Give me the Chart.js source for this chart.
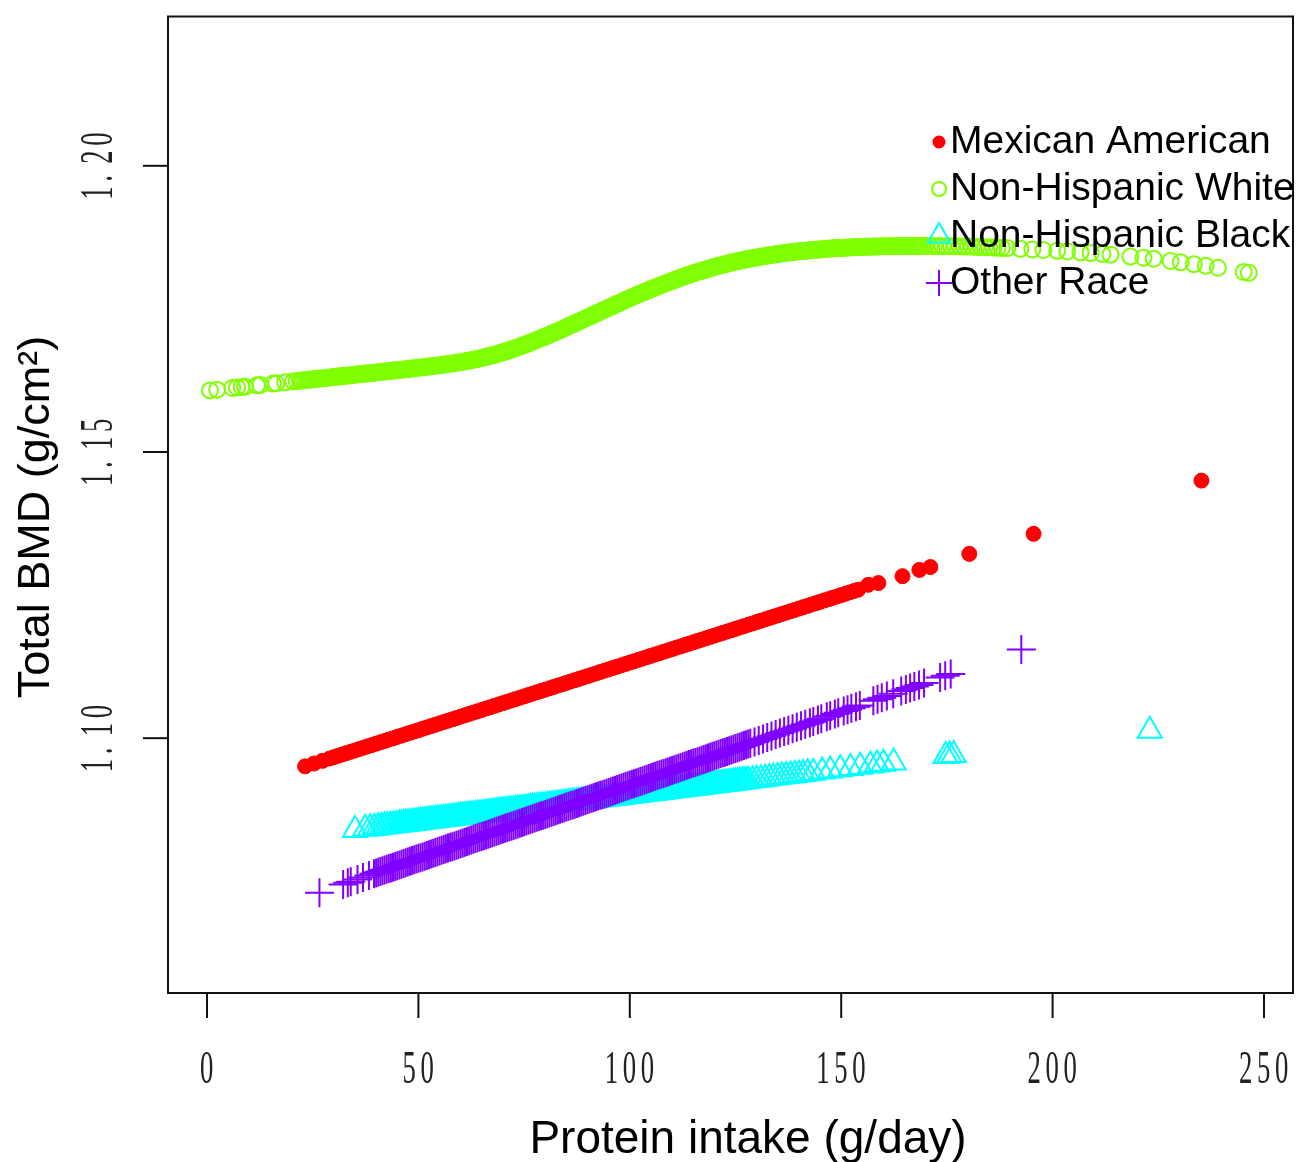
<!DOCTYPE html>
<html>
<head>
<meta charset="utf-8">
<title>Total BMD vs Protein intake</title>
<script src="https://cdn.jsdelivr.net/npm/chart.js"></script>
<style>
  html, body { margin: 0; padding: 0; background: #fff; }
  canvas { display: block; }
</style>
</head>
<body>
<canvas id="bmdChart" width="1311" height="1162"></canvas>
<script>
// values: [protein intake g/day, total BMD g/cm2]
const mexicanAmerican = [
  [23.2,1.09508],[25.3,1.09557],[27.3,1.09604],
  [29,1.09644],[30,1.09668],[31,1.09692],[32,1.09715],[33,1.09739],[34,1.09762],[35,1.09786],[36,1.0981],[37,1.09833],[38,1.09857],
  [39,1.0988],[40,1.09904],[41,1.09928],[42,1.09951],[43,1.09975],[44,1.09998],[45,1.10022],[46,1.10046],[47,1.10069],[48,1.10093],
  [49,1.10116],[50,1.1014],[51,1.10164],[52,1.10187],[53,1.10211],[54,1.10234],[55,1.10258],[56,1.10282],[57,1.10305],[58,1.10329],
  [59,1.10352],[60,1.10376],[61,1.104],[62,1.10423],[63,1.10447],[64,1.1047],[65,1.10494],[66,1.10518],[67,1.10541],[68,1.10565],
  [69,1.10588],[70,1.10612],[71,1.10636],[72,1.10659],[73,1.10683],[74,1.10706],[75,1.1073],[76,1.10754],[77,1.10777],[78,1.10801],
  [79,1.10824],[80,1.10848],[81,1.10872],[82,1.10895],[83,1.10919],[84,1.10942],[85,1.10966],[86,1.1099],[87,1.11013],[88,1.11037],
  [89,1.1106],[90,1.11084],[91,1.11108],[92,1.11131],[93,1.11155],[94,1.11178],[95,1.11202],[96,1.11226],[97,1.11249],[98,1.11273],
  [99,1.11296],[100,1.1132],[101,1.11344],[102,1.11367],[103,1.11391],[104,1.11414],[105,1.11438],[106,1.11462],[107,1.11485],[108,1.11509],
  [109,1.11532],[110,1.11556],[111,1.1158],[112,1.11603],[113,1.11627],[114,1.1165],[115,1.11674],[116,1.11698],[117,1.11721],[118,1.11745],
  [119,1.11768],[120,1.11792],[121,1.11816],[122,1.11839],[123,1.11863],[124,1.11886],[125,1.1191],[126,1.11934],[127,1.11957],[128,1.11981],
  [129,1.12004],[130,1.12028],[131,1.12052],[132,1.12075],[133,1.12099],[134,1.12122],[135,1.12146],[136,1.1217],[137,1.12193],[138,1.12217],
  [139,1.1224],[140,1.12264],[141,1.12288],[142,1.12311],[143,1.12335],[144,1.12358],[145,1.12382],[146,1.12406],[147,1.12429],[148,1.12453],
  [149,1.12476],[150,1.125],[151,1.12524],[152,1.12547],[153,1.12571],[154,1.12594],
  [156.4,1.1268],[158.8,1.1271],[164.5,1.1283],[168.5,1.1294],[171.1,1.1299],[180.3,1.1322],[195.5,1.1357],[235.2,1.145]
];

const nonHispanicWhite = [
  [0.7,1.16076],[2.4,1.16089],[6,1.16118],[7.1,1.16127],[8.2,1.16136],[9,1.16142],[11.8,1.16164],[12.6,1.16171],
  [15.6,1.16195],[16.4,1.16201],[18.5,1.16218],[20.4,1.16233],[21.2,1.1624],
  [22,1.16246],[22.5,1.1625],[23,1.16254],[23.5,1.16258],[24,1.16262],[24.5,1.16266],[25,1.1627],[25.5,1.16274],[26,1.16278],[26.5,1.16282],
  [27,1.16286],[27.5,1.1629],[28,1.16294],[28.5,1.16298],[29,1.16302],[29.5,1.16306],[30,1.1631],[30.5,1.16314],[31,1.16318],[31.5,1.16322],
  [32,1.16326],[32.5,1.1633],[33,1.16334],[33.5,1.16338],[34,1.16342],[34.5,1.16346],[35,1.1635],[35.5,1.16354],[36,1.16358],[36.5,1.16362],
  [37,1.16366],[37.5,1.1637],[38,1.16374],[38.5,1.16378],[39,1.16382],[39.5,1.16386],[40,1.1639],[40.5,1.16394],[41,1.16398],[41.5,1.16402],
  [42,1.16406],[42.5,1.1641],[43,1.16414],[43.5,1.16418],[44,1.16422],[44.5,1.16426],[45,1.1643],[45.5,1.16434],[46,1.16438],[46.5,1.16442],
  [47,1.16446],[47.5,1.1645],[48,1.16454],[48.5,1.164585],[49,1.16463],[49.5,1.164675],[50,1.16472],[50.5,1.164765],[51,1.16481],[51.5,1.164855],
  [52,1.1649],[52.5,1.164945],[53,1.16499],[53.5,1.165035],[54,1.16508],[54.5,1.165125],[55,1.16517],[55.5,1.165215],[56,1.16526],[56.5,1.165315],
  [57,1.16537],[57.5,1.165425],[58,1.16548],[58.5,1.165535],[59,1.16559],[59.5,1.165645],[60,1.1657],[60.5,1.16577],[61,1.16584],[61.5,1.16591],
  [62,1.16598],[62.5,1.16605],[63,1.16612],[63.5,1.16619],[64,1.16626],[64.5,1.16635],[65,1.16644],[65.5,1.16653],[66,1.16662],[66.5,1.16671],
  [67,1.1668],[67.5,1.16689],[68,1.16698],[68.5,1.167095],[69,1.16721],[69.5,1.167325],[70,1.16744],[70.5,1.167555],[71,1.16767],[71.5,1.167785],
  [72,1.1679],[72.5,1.168035],[73,1.16817],[73.5,1.168305],[74,1.16844],[74.5,1.168575],[75,1.16871],[75.5,1.168845],[76,1.16898],[76.5,1.16913],
  [77,1.16928],[77.5,1.16943],[78,1.16958],[78.5,1.16973],[79,1.16988],[79.5,1.17003],[80,1.17018],[80.5,1.17034],[81,1.1705],[81.5,1.17066],
  [82,1.17082],[82.5,1.17098],[83,1.17114],[83.5,1.1713],[84,1.17146],[84.5,1.17163],[85,1.1718],[85.5,1.17197],[86,1.17214],[86.5,1.17231],
  [87,1.17248],[87.5,1.17265],[88,1.17282],[88.5,1.17299],[89,1.17316],[89.5,1.17333],[90,1.1735],[90.5,1.17367],[91,1.17384],[91.5,1.17401],
  [92,1.17418],[92.5,1.17435],[93,1.17452],[93.5,1.17469],[94,1.17486],[94.5,1.17503],[95,1.1752],[95.5,1.17537],[96,1.17554],[96.5,1.17571],
  [97,1.17588],[97.5,1.17605],[98,1.17622],[98.5,1.17639],[99,1.17656],[99.5,1.17673],[100,1.1769],[100.5,1.177055],[101,1.17721],[101.5,1.177365],
  [102,1.17752],[102.5,1.177675],[103,1.17783],[103.5,1.177985],[104,1.17814],[104.5,1.17829],[105,1.17844],[105.5,1.17859],[106,1.17874],[106.5,1.17889],
  [107,1.17904],[107.5,1.17919],[108,1.17934],[108.5,1.17948],[109,1.17962],[109.5,1.17976],[110,1.1799],[110.5,1.18004],[111,1.18018],[111.5,1.18032],
  [112,1.18046],[112.5,1.180585],[113,1.18071],[113.5,1.180835],[114,1.18096],[114.5,1.181085],[115,1.18121],[115.5,1.181335],[116,1.18146],[116.5,1.18157],
  [117,1.18168],[117.5,1.18179],[118,1.1819],[118.5,1.18201],[119,1.18212],[119.5,1.18223],[120,1.18234],[120.5,1.182435],[121,1.18253],[121.5,1.182625],
  [122,1.18272],[122.5,1.182815],[123,1.18291],[123.5,1.183005],[124,1.1831],[124.5,1.18318],[125,1.18326],[125.5,1.18334],[126,1.18342],[126.5,1.1835],
  [127,1.18358],[127.5,1.18366],[128,1.18374],[128.5,1.183805],[129,1.18387],[129.5,1.183935],[130,1.184],[130.5,1.184065],[131,1.18413],[131.5,1.184195],
  [132,1.18426],[132.5,1.184315],[133,1.18437],[133.5,1.184425],[134,1.18448],[134.5,1.184535],[135,1.18459],[135.5,1.184645],[136,1.1847],[136.5,1.184745],
  [137,1.18479],[137.5,1.184835],[138,1.18488],[138.5,1.184925],[139,1.18497],[139.5,1.185015],[140,1.18506],[140.5,1.185095],[141,1.18513],[141.5,1.185165],
  [142,1.1852],[142.5,1.185235],[143,1.18527],[143.5,1.185305],[144,1.18534],[144.5,1.18537],[145,1.1854],[145.5,1.18543],[146,1.18546],[146.5,1.18549],
  [147,1.18552],[147.5,1.18555],[148,1.18558],[148.5,1.1856],[149,1.18562],[149.5,1.18564],[150,1.18566],[150.5,1.18568],[151,1.1857],[151.5,1.18572],
  [152,1.18574],[152.5,1.185755],[153,1.18577],[153.5,1.185785],[154,1.1858],[154.5,1.185815],[155,1.18583],[155.5,1.185845],[156,1.18586],[156.5,1.18587],
  [157,1.18588],[157.5,1.18589],[158,1.1859],[158.5,1.18591],[159,1.18592],[159.5,1.18593],[160,1.18594],[160.5,1.185945],[161,1.18595],[161.5,1.185955],
  [162,1.18596],[162.5,1.185965],[163,1.18597],[163.5,1.185975],[164,1.18598],[164.5,1.18598],[165,1.18598],[165.5,1.18598],[166,1.18598],[166.5,1.18598],
  [167,1.18598],[167.5,1.18598],[168,1.18598],[168.5,1.18598],[169,1.18598],[169.5,1.18598],[170,1.18598],
  [171,1.18598],[172,1.18598],[173,1.18597],[174,1.18596],[175,1.18595],[176,1.18594],[177,1.18593],[178,1.18592],[179,1.18591],[180,1.1859],
  [181,1.18587],[182,1.18584],[183,1.18581],[184,1.18578],[185,1.18575],[186,1.18572],[187,1.18569],[188,1.18566],
  [189.3,1.18562],[192.4,1.1855],[195.2,1.18539],[197.8,1.18529],[201.1,1.18515],[203.5,1.18503],[206.6,1.18487],[209,1.18475],
  [211.8,1.18461],[213.7,1.18448],[218.4,1.18415],[221.5,1.18394],[223.9,1.18377],[227.9,1.18337],[230.3,1.18313],[233.4,1.18282],
  [236.2,1.18254],[239.1,1.18219],[245.2,1.18146],[246.4,1.18131]
];

const nonHispanicBlack = [
  [35,1.08394],[37.4,1.08416],[38.6,1.08427],[39.6,1.08437],[40.5,1.08445],[41.3,1.08452],[42,1.08459],[42.7,1.08465],
  [43.4,1.08472],[44.1,1.08478],[44.8,1.08485],
  [45.5,1.08491],[46,1.08496],[46.5,1.08501],[47,1.08505],[47.5,1.0851],[48,1.08514],[48.5,1.08519],[49,1.08524],[49.5,1.08528],[50,1.08533],
  [50.5,1.08538],[51,1.08542],[51.5,1.08547],[52,1.08552],[52.5,1.08556],[53,1.08561],[53.5,1.08565],[54,1.0857],[54.5,1.08575],[55,1.08579],
  [55.5,1.08584],[56,1.08589],[56.5,1.08593],[57,1.08598],[57.5,1.08602],[58,1.08607],[58.5,1.08612],[59,1.08616],[59.5,1.08621],[60,1.08626],
  [60.5,1.0863],[61,1.08635],[61.5,1.08639],[62,1.08644],[62.5,1.08649],[63,1.08653],[63.5,1.08658],[64,1.08663],[64.5,1.08667],[65,1.08672],
  [65.5,1.08677],[66,1.08681],[66.5,1.08686],[67,1.0869],[67.5,1.08695],[68,1.087],[68.5,1.08704],[69,1.08709],[69.5,1.08714],[70,1.08718],
  [70.5,1.08723],[71,1.08727],[71.5,1.08732],[72,1.08737],[72.5,1.08741],[73,1.08746],[73.5,1.08751],[74,1.08755],[74.5,1.0876],[75,1.08764],
  [75.5,1.08769],[76,1.08774],[76.5,1.08778],[77,1.08783],[77.5,1.08788],[78,1.08792],[78.5,1.08797],[79,1.08802],[79.5,1.08806],[80,1.08811],
  [80.5,1.08815],[81,1.0882],[81.5,1.08825],[82,1.08829],[82.5,1.08834],[83,1.08839],[83.5,1.08843],[84,1.08848],[84.5,1.08852],[85,1.08857],
  [85.5,1.08862],[86,1.08866],[86.5,1.08871],[87,1.08876],[87.5,1.0888],[88,1.08885],[88.5,1.0889],[89,1.08894],[89.5,1.08899],[90,1.08903],
  [90.5,1.08908],[91,1.08913],[91.5,1.08917],[92,1.08922],[92.5,1.08927],[93,1.08931],[93.5,1.08936],[94,1.0894],[94.5,1.08945],[95,1.0895],
  [95.5,1.08954],[96,1.08959],[96.5,1.08964],[97,1.08968],[97.5,1.08973],[98,1.08978],[98.5,1.08982],[99,1.08987],[99.5,1.08991],[100,1.08996],
  [100.5,1.09001],[101,1.09005],[101.5,1.0901],[102,1.09015],[102.5,1.09019],[103,1.09024],[103.5,1.09028],[104,1.09033],[104.5,1.09038],[105,1.09042],
  [105.5,1.09047],[106,1.09052],[106.5,1.09056],[107,1.09061],[107.5,1.09066],[108,1.0907],[108.5,1.09075],[109,1.09079],[109.5,1.09084],[110,1.09089],
  [110.5,1.09093],[111,1.09098],[111.5,1.09103],[112,1.09107],[112.5,1.09112],[113,1.09116],[113.5,1.09121],[114,1.09126],[114.5,1.0913],[115,1.09135],
  [115.5,1.0914],[116,1.09144],[116.5,1.09149],[117,1.09153],[117.5,1.09158],[118,1.09163],[118.5,1.09167],[119,1.09172],[119.5,1.09177],[120,1.09181],
  [120.5,1.09186],[121,1.0919],[121.5,1.09195],[122,1.092],[122.5,1.09204],[123,1.09209],[123.5,1.09214],[124,1.09218],[124.5,1.09223],[125,1.09228],
  [125.5,1.09232],[126,1.09237],[126.5,1.09241],[127,1.09246],[127.5,1.09251],[128,1.09255],
  [129,1.09265],[130,1.09274],[131,1.09283],[132,1.09292],[133,1.09302],[134,1.09311],[135,1.0932],[136,1.09329],[137,1.09339],[138,1.09348],
  [139,1.09357],[140,1.09366],[141,1.09376],[142,1.09385],
  [143.4,1.09398],[145.5,1.09417],[147.4,1.09435],[149.8,1.09457],[152.2,1.09479],[154.5,1.09501],[156.9,1.09523],[158.5,1.09538],
  [160,1.09552],[162.4,1.09574],[174.7,1.09688],[175.6,1.09696],[176.6,1.09705],[223,1.1013]
];

const otherRace = [
  [26.6,1.07301],[32.2,1.07444],[33.3,1.07472],[34,1.0749],[35.6,1.07531],[36.9,1.07565],[38.3,1.076],
  [39.5,1.076312],[40,1.07644],[40.5,1.076568],[41,1.076696],[41.5,1.076824],[42,1.076952],[42.5,1.07708],[43,1.077208],[43.5,1.077336],[44,1.077464],
  [44.5,1.077592],[45,1.07772],[45.5,1.077848],[46,1.077976],[46.5,1.078104],[47,1.078232],[47.5,1.07836],[48,1.078488],[48.5,1.078616],[49,1.078744],
  [49.5,1.078872],[50,1.079],[50.5,1.079128],[51,1.079256],[51.5,1.079384],[52,1.079512],[52.5,1.07964],[53,1.079768],[53.5,1.079896],[54,1.080024],
  [54.5,1.080152],[55,1.08028],[55.5,1.080408],[56,1.080536],[56.5,1.080664],[57,1.080792],[57.5,1.08092],[58,1.081048],[58.5,1.081176],[59,1.081304],
  [59.5,1.081432],[60,1.08156],[60.5,1.081688],[61,1.081816],[61.5,1.081944],[62,1.082072],[62.5,1.0822],[63,1.082328],[63.5,1.082456],[64,1.082584],
  [64.5,1.082712],[65,1.08284],[65.5,1.082968],[66,1.083096],[66.5,1.083224],[67,1.083352],[67.5,1.08348],[68,1.083608],[68.5,1.083736],[69,1.083864],
  [69.5,1.083992],[70,1.08412],[70.5,1.084248],[71,1.084376],[71.5,1.084504],[72,1.084632],[72.5,1.08476],[73,1.084888],[73.5,1.085016],[74,1.085144],
  [74.5,1.085272],[75,1.0854],[75.5,1.085528],[76,1.085656],[76.5,1.085784],[77,1.085912],[77.5,1.08604],[78,1.086168],[78.5,1.086296],[79,1.086424],
  [79.5,1.086552],[80,1.08668],[80.5,1.086808],[81,1.086936],[81.5,1.087064],[82,1.087192],[82.5,1.08732],[83,1.087448],[83.5,1.087576],[84,1.087704],
  [84.5,1.087832],[85,1.08796],[85.5,1.088088],[86,1.088216],[86.5,1.088344],[87,1.088472],[87.5,1.0886],[88,1.088728],[88.5,1.088856],[89,1.088984],
  [89.5,1.089112],[90,1.08924],[90.5,1.089368],[91,1.089496],[91.5,1.089624],[92,1.089752],[92.5,1.08988],[93,1.090008],[93.5,1.090136],[94,1.090264],
  [94.5,1.090392],[95,1.09052],[95.5,1.090648],[96,1.090776],[96.5,1.090904],[97,1.091032],[97.5,1.09116],[98,1.091288],[98.5,1.091416],[99,1.091544],
  [99.5,1.091672],[100,1.0918],[100.5,1.091928],[101,1.092056],[101.5,1.092184],[102,1.092312],[102.5,1.09244],[103,1.092568],[103.5,1.092696],[104,1.092824],
  [104.5,1.092952],[105,1.09308],[105.5,1.093208],[106,1.093336],[106.5,1.093464],[107,1.093592],[107.5,1.09372],[108,1.093848],[108.5,1.093976],[109,1.094104],
  [109.5,1.094232],[110,1.09436],[110.5,1.094488],[111,1.094616],[111.5,1.094744],[112,1.094872],[112.5,1.095],[113,1.095128],[113.5,1.095256],[114,1.095384],
  [114.5,1.095512],[115,1.09564],[115.5,1.095768],[116,1.095896],[116.5,1.096024],[117,1.096152],[117.5,1.09628],[118,1.096408],[118.5,1.096536],[119,1.096664],
  [119.5,1.096792],[120,1.09692],[120.5,1.097048],[121,1.097176],[121.5,1.097304],[122,1.097432],[122.5,1.09756],[123,1.097688],[123.5,1.097816],[124,1.097944],
  [124.5,1.098072],[125,1.0982],[125.5,1.098328],[126,1.098456],[126.5,1.098584],[127,1.098712],[127.5,1.09884],[128,1.098968],
  [128.5,1.099096],[129.5,1.099352],[130.5,1.099608],[131.5,1.099864],[132.5,1.10012],[133.5,1.100376],[134.5,1.100632],[135.5,1.100888],
  [136.5,1.101144],[137.5,1.1014],[138.5,1.101656],[139.5,1.101912],[140.5,1.102168],
  [141.5,1.102424],[142.6,1.102706],[143.4,1.10291],[144.5,1.103192],[145.3,1.103397],[146.6,1.10373],[147.4,1.103934],[148.5,1.104216],
  [149.3,1.104421],[150.6,1.104754],[151.5,1.104984],[152.4,1.105214],[153.5,1.105496],[154.4,1.105726],
  [157.6,1.106546],[158.6,1.106802],[159.6,1.107058],[160.8,1.107365],[162.3,1.107749],[164.2,1.108235],[165.3,1.108517],[166.3,1.108773],
  [167.3,1.109029],[168.4,1.10931],[169.6,1.109618],[173.4,1.11059],[174.6,1.110898],[175.9,1.11123],[192.6,1.1155]
];

const xTicks = [0, 50, 100, 150, 200, 250];
const yTicks = [1.10, 1.15, 1.20];
const seriesNames = ['Mexican American', 'Non-Hispanic White', 'Non-Hispanic Black', 'Other Race'];
const seriesColors = ['#FF0000', '#80FF00', '#00FFFF', '#8000FF'];

const toPoints = arr => arr.map(p => ({ x: p[0], y: p[1] }));

// tick labels are a tall, narrow serif; draw each glyph squeezed into a fixed cell
function narrowText(ctx, str, cx, baseY) {
  const cell = 18, sx = 0.58;
  let x0 = cx - (str.length * cell - 4) / 2;
  for (const ch of str) {
    ctx.save();
    ctx.translate(x0, baseY);
    ctx.scale(sx, 1);
    ctx.fillText(ch, 0, 0);
    ctx.restore();
    x0 += cell;
  }
}

function marker(ctx, i, x, y) {
  ctx.save();
  ctx.strokeStyle = seriesColors[i];
  ctx.fillStyle = seriesColors[i];
  ctx.lineWidth = 2;
  ctx.beginPath();
  if (i === 0) {
    ctx.arc(x, y, 6.5, 0, Math.PI * 2);
    ctx.fill();
  } else if (i === 1) {
    ctx.arc(x, y, 7, 0, Math.PI * 2);
    ctx.stroke();
  } else if (i === 2) {
    const r = 13;
    ctx.moveTo(x, y - r);
    ctx.lineTo(x + r * 0.866, y + r / 2);
    ctx.lineTo(x - r * 0.866, y + r / 2);
    ctx.closePath();
    ctx.stroke();
  } else {
    const r = 13;
    ctx.moveTo(x - r, y); ctx.lineTo(x + r, y);
    ctx.moveTo(x, y - r); ctx.lineTo(x, y + r);
    ctx.stroke();
  }
  ctx.restore();
}

const framePlugin = {
  id: 'frame',
  afterDraw(chart) {
    const { ctx, chartArea: a } = chart;
    const xs = chart.scales.x, ys = chart.scales.y;
    ctx.save();
    ctx.strokeStyle = '#111';
    ctx.lineWidth = 2;
    ctx.strokeRect(a.left, a.top, a.right - a.left, a.bottom - a.top);

    ctx.fillStyle = '#222';
    ctx.font = '46px "Liberation Serif", serif';
    ctx.textAlign = 'left';
    ctx.textBaseline = 'alphabetic';
    xs.ticks.forEach(t => {
      const px = xs.getPixelForValue(t.value);
      ctx.beginPath();
      ctx.moveTo(px, a.bottom);
      ctx.lineTo(px, a.bottom + 25);
      ctx.stroke();
      narrowText(ctx, String(t.value), px, 1083);
    });
    ys.ticks.forEach(t => {
      const py = ys.getPixelForValue(t.value);
      ctx.beginPath();
      ctx.moveTo(a.left - 25, py);
      ctx.lineTo(a.left, py);
      ctx.stroke();
      ctx.save();
      ctx.translate(112, py);
      ctx.rotate(-Math.PI / 2);
      narrowText(ctx, t.value.toFixed(2), 0, 0);
      ctx.restore();
    });

    // axis titles
    ctx.fillStyle = '#000';
    ctx.font = '46px "Liberation Sans", Arial, sans-serif';
    ctx.textAlign = 'center';
    ctx.fillText('Protein intake (g/day)', 748, 1153);
    ctx.save();
    ctx.translate(49, 517);
    ctx.rotate(-Math.PI / 2);
    ctx.font = '45px "Liberation Sans", Arial, sans-serif';
    ctx.fillText('Total BMD (g/cm\u00B2)', 0, 0);
    ctx.restore();

    // legend, no box
    ctx.font = '39px "Liberation Sans", Arial, sans-serif';
    ctx.textAlign = 'left';
    seriesNames.forEach((name, i) => {
      const base = 153 + i * 47;
      marker(ctx, i, 939, base - 11);
      ctx.fillStyle = '#000';
      ctx.fillText(name, 950, base);
    });
    ctx.restore();
  }
};

const common = { showLine: false, pointHoverRadius: 0 };

new Chart(document.getElementById('bmdChart').getContext('2d'), {
  type: 'scatter',
  data: {
    datasets: [
      { ...common, label: seriesNames[0], data: toPoints(mexicanAmerican), order: 4,
        pointStyle: 'circle', pointRadius: 7.5, pointBorderWidth: 1,
        pointBackgroundColor: seriesColors[0], pointBorderColor: seriesColors[0] },
      { ...common, label: seriesNames[1], data: toPoints(nonHispanicWhite), order: 3,
        pointStyle: 'circle', pointRadius: 8, pointBorderWidth: 2,
        pointBackgroundColor: 'rgba(0,0,0,0)', pointBorderColor: seriesColors[1] },
      { ...common, label: seriesNames[2], data: toPoints(nonHispanicBlack), order: 2,
        pointStyle: 'triangle', pointRadius: 14, pointBorderWidth: 2,
        pointBackgroundColor: 'rgba(0,0,0,0)', pointBorderColor: seriesColors[2] },
      { ...common, label: seriesNames[3], data: toPoints(otherRace), order: 1,
        pointStyle: 'cross', pointRadius: 14.5, pointBorderWidth: 2,
        pointBackgroundColor: seriesColors[3], pointBorderColor: seriesColors[3] }
    ]
  },
  options: {
    responsive: false,
    animation: false,
    events: [],
    layout: { padding: { top: 12, right: 18, left: 0, bottom: 0 } },
    plugins: { legend: { display: false }, tooltip: { enabled: false } },
    scales: {
      x: {
        type: 'linear', min: -9.224, max: 256.86,
        ticks: { display: false }, grid: { display: false }, border: { display: false },
        afterBuildTicks: s => { s.ticks = xTicks.map(v => ({ value: v })); },
        afterFit: s => { s.height = 169; }
      },
      y: {
        type: 'linear', min: 1.055477, max: 1.226087,
        ticks: { display: false }, grid: { display: false }, border: { display: false },
        afterBuildTicks: s => { s.ticks = yTicks.map(v => ({ value: v })); },
        afterFit: s => { s.width = 168; }
      }
    }
  },
  plugins: [framePlugin]
});
</script>
</body>
</html>
